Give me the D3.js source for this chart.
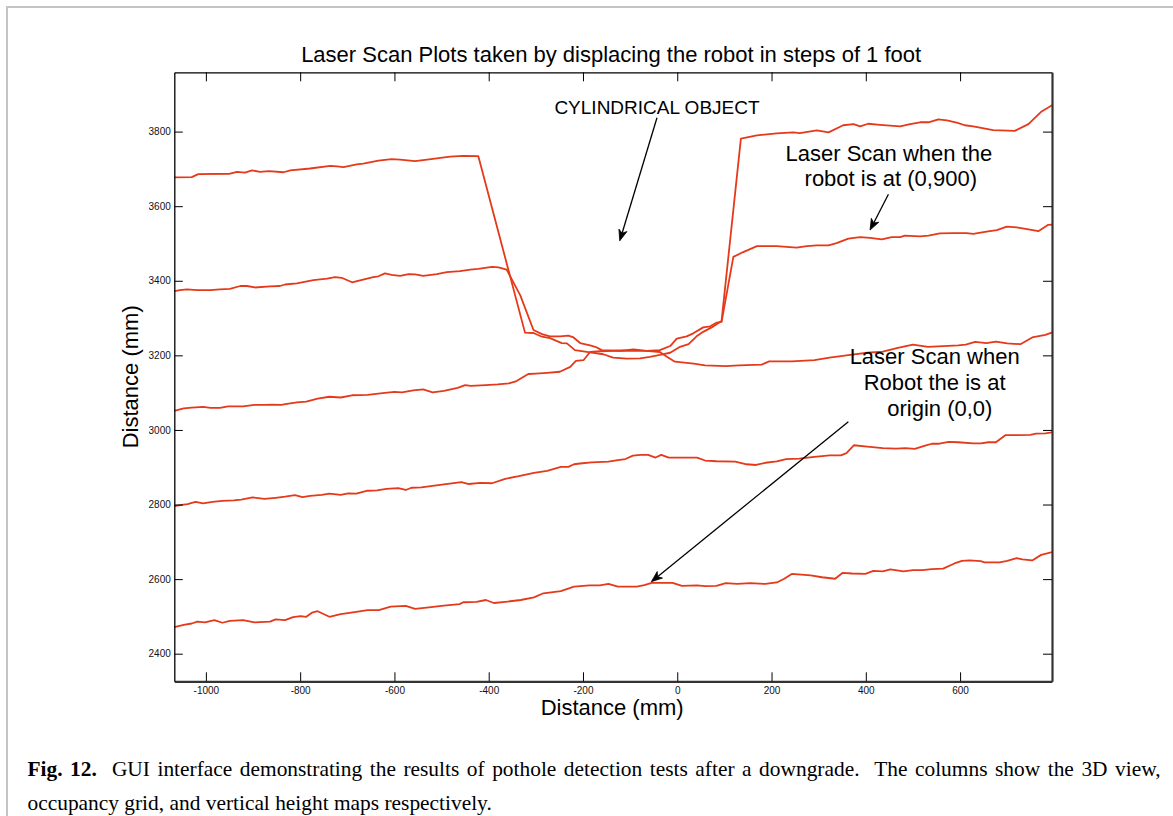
<!DOCTYPE html>
<html><head><meta charset="utf-8">
<script src="https://cdn.jsdelivr.net/npm/d3@7"></script>
<style>
html,body{margin:0;padding:0;background:#fff;}
svg{display:block;}
</style></head><body>
<svg id="chart" width="1173" height="816"></svg>
<script>
// ---------- data ----------
const chartTitle = "Laser Scan Plots taken by displacing the robot in steps of 1 foot";
const xLabel = "Distance (mm)";
const yLabel = "Distance (mm)";
const xTicks = [-1000, -800, -600, -400, -200, 0, 200, 400, 600];
const yTicks = [2400, 2600, 2800, 3000, 3200, 3400, 3600, 3800];
const xDomain = [-1067, 795];
const yDomain = [2326, 3959];

const scanTop = [[-1067,3677],[-1030,3678],[-1016,3686],[-949,3687],[-934,3692],[-917,3690],[-902,3696],[-885,3692],[-867,3694],[-835,3691],[-821,3696],[-779,3701],[-736,3708],[-722,3707],[-708,3705],[-680,3712],[-666,3714],[-634,3722],[-606,3726],[-588,3725],[-556,3721],[-510,3728],[-482,3733],[-454,3735],[-422,3734],[-323,3261],[-305,3260],[-287,3250],[-270,3246],[-245,3233],[-234,3232],[-217,3214],[-185,3208],[-157,3203],[-136,3194],[-107,3191],[-79,3192],[-58,3196],[-37,3201],[-15,3207],[6,3223],[24,3230],[41,3251],[55,3263],[73,3275],[94,3292],[135,3781],[169,3790],[211,3795],[246,3798],[260,3796],[296,3803],[321,3798],[352,3817],[374,3820],[388,3814],[405,3821],[430,3818],[473,3814],[494,3820],[515,3825],[533,3825],[554,3833],[572,3830],[593,3824],[610,3817],[628,3814],[670,3804],[716,3802],[745,3820],[773,3854],[797,3872]];

const scanRobot900 = [[-1067,3372],[-1055,3375],[-1040,3377],[-1019,3375],[-991,3375],[-970,3377],[-949,3378],[-927,3386],[-913,3386],[-896,3382],[-864,3385],[-843,3386],[-832,3390],[-807,3393],[-772,3402],[-743,3406],[-726,3410],[-712,3408],[-690,3396],[-645,3410],[-634,3412],[-620,3420],[-606,3416],[-588,3413],[-570,3418],[-556,3417],[-539,3413],[-510,3418],[-489,3423],[-461,3426],[-439,3430],[-422,3432],[-393,3437],[-379,3436],[-362,3430],[-333,3361],[-305,3268],[-287,3257],[-270,3251],[-249,3251],[-231,3253],[-220,3248],[-206,3233],[-185,3227],[-174,3223],[-160,3214],[-121,3212],[-93,3216],[-65,3212],[-37,3214],[-15,3225],[-1,3245],[20,3251],[34,3259],[55,3275],[70,3278],[84,3288],[94,3290],[119,3464],[140,3477],[169,3493],[211,3493],[253,3489],[275,3493],[296,3495],[321,3495],[338,3501],[363,3513],[388,3517],[409,3515],[434,3511],[455,3517],[473,3517],[483,3521],[515,3519],[533,3521],[557,3527],[586,3528],[614,3528],[628,3526],[656,3532],[678,3536],[699,3545],[720,3543],[745,3538],[766,3533],[787,3550],[797,3551]];

const scanMiddle = [[-1067,3051],[-1047,3058],[-1030,3060],[-1006,3062],[-990,3059],[-970,3059],[-953,3063],[-921,3063],[-897,3067],[-876,3067],[-860,3068],[-840,3067],[-828,3070],[-807,3074],[-787,3076],[-763,3084],[-738,3089],[-714,3087],[-690,3093],[-657,3094],[-625,3099],[-600,3102],[-584,3101],[-560,3106],[-539,3109],[-519,3101],[-495,3105],[-466,3113],[-450,3120],[-438,3118],[-406,3120],[-381,3122],[-357,3125],[-341,3131],[-316,3150],[-300,3151],[-276,3153],[-249,3156],[-227,3169],[-215,3185],[-199,3187],[-185,3209],[-164,3211],[-121,3213],[-65,3212],[-37,3209],[-22,3196],[-5,3183],[35,3178],[59,3173],[103,3171],[131,3173],[179,3175],[195,3184],[243,3184],[291,3187],[323,3194],[371,3202],[403,3207],[436,3210],[468,3220],[500,3229],[532,3223],[564,3225],[596,3227],[612,3229],[632,3236],[656,3233],[676,3237],[700,3232],[728,3230],[753,3248],[781,3255],[797,3262]];

const scanLower = [[-1067,2796],[-1051,2799],[-1039,2801],[-1022,2807],[-1006,2803],[-986,2807],[-965,2810],[-941,2811],[-925,2813],[-901,2819],[-876,2815],[-852,2818],[-832,2821],[-811,2825],[-795,2820],[-779,2823],[-754,2826],[-738,2829],[-714,2826],[-698,2830],[-681,2829],[-657,2837],[-637,2838],[-617,2842],[-592,2844],[-576,2839],[-564,2845],[-543,2846],[-519,2850],[-495,2854],[-458,2860],[-442,2855],[-418,2858],[-393,2857],[-365,2869],[-336,2876],[-304,2885],[-276,2890],[-247,2901],[-231,2901],[-219,2908],[-206,2910],[-182,2913],[-146,2915],[-126,2919],[-110,2922],[-94,2931],[-78,2933],[-62,2933],[-46,2926],[-34,2933],[-18,2926],[42,2926],[59,2918],[83,2916],[123,2915],[147,2908],[167,2906],[187,2912],[211,2916],[231,2922],[259,2923],[291,2928],[323,2932],[347,2932],[359,2938],[375,2959],[403,2955],[436,2951],[464,2950],[484,2951],[504,2949],[524,2957],[540,2963],[556,2963],[576,2968],[596,2967],[628,2964],[644,2964],[660,2967],[676,2967],[696,2986],[724,2986],[749,2987],[761,2990],[781,2991],[797,2994]];

const scanOrigin = [[-1067,2471],[-1047,2477],[-1030,2481],[-1018,2486],[-1002,2484],[-982,2490],[-965,2483],[-949,2488],[-921,2490],[-897,2484],[-864,2486],[-852,2492],[-832,2490],[-815,2498],[-799,2501],[-787,2499],[-775,2510],[-763,2514],[-738,2499],[-714,2506],[-681,2512],[-657,2517],[-633,2517],[-608,2526],[-576,2528],[-556,2520],[-527,2524],[-495,2529],[-462,2533],[-454,2538],[-426,2539],[-406,2544],[-389,2536],[-365,2539],[-332,2544],[-304,2551],[-284,2562],[-247,2568],[-219,2580],[-186,2583],[-164,2583],[-146,2587],[-126,2580],[-86,2580],[-70,2584],[-54,2590],[-10,2590],[10,2582],[42,2583],[59,2581],[83,2582],[103,2589],[127,2587],[155,2589],[187,2587],[211,2591],[227,2601],[243,2614],[283,2610],[307,2605],[335,2601],[351,2617],[371,2615],[399,2614],[416,2622],[436,2621],[452,2626],[480,2621],[500,2624],[520,2624],[540,2627],[564,2628],[588,2642],[604,2649],[620,2650],[644,2648],[652,2645],[684,2645],[700,2649],[720,2656],[732,2653],[753,2650],[772,2665],[797,2673]];

const scans = [scanTop, scanRobot900, scanMiddle, scanLower, scanOrigin];

// annotations (data coordinates)
const noteTexts = [
  {t:"CYLINDRICAL OBJECT", x:-43, y:3848, size:19},
  {t:"Laser Scan when the", x:449, y:3721, size:22},
  {t:"robot is at (0,900)", x:453, y:3653, size:22},
  {t:"Laser Scan when", x:546, y:3178, size:22},
  {t:"Robot the is at", x:546, y:3108, size:22},
  {t:"origin (0,0)", x:557, y:3038, size:22}
];
const noteArrows = [
  {from:[-43,3837], to:[-122,3507]},
  {from:[448,3632], to:[409,3536]},
  {from:[363,3022], to:[-55,2593]}
];
const captionBold = "Fig. 12.";
const captionLine1 = "  GUI interface demonstrating the results of pothole detection tests after a downgrade.  The columns show the 3D view,";
const captionLine2 = "occupancy grid, and vertical height maps respectively.";

// ---------- drawing ----------
const W = 1173, H = 816;
const plot = {left:174.3, right:1052, top:72.3, bottom:681.3};
const sans = '"Liberation Sans", Arial, Helvetica, sans-serif';
const serif = '"Liberation Serif", "Times New Roman", serif';
const red = '#e5391a';

const svg = d3.select('#chart');
svg.append('rect').attr('x',0).attr('y',0).attr('width',W).attr('height',H).attr('fill','#fff');
// outer light frame
svg.append('rect').attr('x',7).attr('y',7).attr('width',1300).attr('height',1000)
   .attr('fill','none').attr('stroke','#c4c4c4').attr('stroke-width',2);

const x = d3.scaleLinear().domain(xDomain).range([plot.left, plot.right]);
const y = d3.scaleLinear().domain(yDomain).range([plot.bottom, plot.top]);

svg.append('clipPath').attr('id','clip').append('rect')
  .attr('x',plot.left).attr('y',plot.top)
  .attr('width',plot.right-plot.left).attr('height',plot.bottom-plot.top);

// lines
const line = d3.line().x(d => x(d[0])).y(d => y(d[1]));
svg.append('g').attr('clip-path','url(#clip)')
  .selectAll('path').data(scans).join('path')
  .attr('d', line).attr('fill','none').attr('stroke',red)
  .attr('stroke-width',1.8).attr('stroke-linejoin','round');

// axes
const fmt = d => String(d);
const axB = svg.append('g').attr('transform',`translate(0,${plot.bottom})`)
  .call(d3.axisBottom(x).tickValues(xTicks).tickFormat(fmt).tickSizeInner(-9).tickSizeOuter(0).tickPadding(6));
const axT = svg.append('g').attr('transform',`translate(0,${plot.top})`)
  .call(d3.axisTop(x).tickValues(xTicks).tickFormat('').tickSizeInner(-9).tickSizeOuter(0));
const axL = svg.append('g').attr('transform',`translate(${plot.left},0)`)
  .call(d3.axisLeft(y).tickValues(yTicks).tickFormat(fmt).tickSizeInner(-8.5).tickSizeOuter(0).tickPadding(3.5));
const axR = svg.append('g').attr('transform',`translate(${plot.right},0)`)
  .call(d3.axisRight(y).tickValues(yTicks).tickFormat('').tickSizeInner(-9).tickSizeOuter(0));

[axB, axT, axL, axR].forEach(a => {
  a.selectAll('.tick line').attr('stroke','#000').attr('stroke-width',1);
  a.selectAll('.tick text').attr('fill','#111').style('font-family',sans).style('font-size','10px');
});
axB.select('.domain').attr('stroke','#333').attr('stroke-width',2.2);
axR.select('.domain').attr('stroke','#333').attr('stroke-width',2.2);
axT.select('.domain').attr('stroke','#000').attr('stroke-width',1.3);
axL.select('.domain').attr('stroke','#000').attr('stroke-width',1.3);

// title & labels
svg.append('text').attr('x',(plot.left+plot.right)/2 - 2).attr('y',62)
  .attr('text-anchor','middle').style('font-family',sans).style('font-size','22px')
  .attr('fill','#000').text(chartTitle);
svg.append('text').attr('x',(plot.left+plot.right)/2 - 1).attr('y',715)
  .attr('text-anchor','middle').style('font-family',sans).style('font-size','22px')
  .attr('fill','#000').text(xLabel);
svg.append('text').attr('transform',`translate(138,${(plot.top+plot.bottom)/2}) rotate(-90)`)
  .attr('text-anchor','middle').style('font-family',sans).style('font-size','22px')
  .attr('fill','#000').text(yLabel);

// annotation texts
svg.append('g').selectAll('text').data(noteTexts).join('text')
  .attr('x', d => x(d.x)).attr('y', d => y(d.y))
  .attr('text-anchor','middle').style('font-family',sans)
  .style('font-size', d => d.size + 'px').attr('fill','#000').text(d => d.t);

// annotation arrows
const ag = svg.append('g');
noteArrows.forEach(a => {
  const x1 = x(a.from[0]), y1 = y(a.from[1]), x2 = x(a.to[0]), y2 = y(a.to[1]);
  const ang = Math.atan2(y2 - y1, x2 - x1);
  const L = 11, Wd = 4.2, notch = 3;
  const bx = x2 - L*Math.cos(ang), by = y2 - L*Math.sin(ang);
  const px = -Math.sin(ang), py = Math.cos(ang);
  const nx = x2 - (L - notch)*Math.cos(ang), ny = y2 - (L - notch)*Math.sin(ang);
  ag.append('line').attr('x1',x1).attr('y1',y1).attr('x2',nx).attr('y2',ny)
    .attr('stroke','#000').attr('stroke-width',1.3);
  ag.append('path')
    .attr('d', `M${x2},${y2}L${bx+px*Wd},${by+py*Wd}L${nx},${ny}L${bx-px*Wd},${by-py*Wd}Z`)
    .attr('fill','#000').attr('stroke','#000').attr('stroke-width',0.8).attr('stroke-linejoin','miter');
});

// caption
const capLeft = 27.5, capRight = 1160.6, capSize = '21.4px';
const cap = svg.append('text').attr('x',capLeft).attr('y',775.5).attr('xml:space','preserve')
  .style('font-family',serif).style('font-size',capSize).style('white-space','pre').attr('fill','#000');
cap.append('tspan').attr('font-weight','bold').text(captionBold);
cap.append('tspan').text(captionLine1);
const natural = cap.node().getComputedTextLength();
const nSpaces = (captionBold + captionLine1).split(' ').length - 1;
cap.style('word-spacing', ((capRight - capLeft) - natural) / nSpaces + 'px');
svg.append('text').attr('x',capLeft).attr('y',810)
  .style('font-family',serif).style('font-size',capSize).attr('fill','#000').text(captionLine2);
</script>
</body></html>
